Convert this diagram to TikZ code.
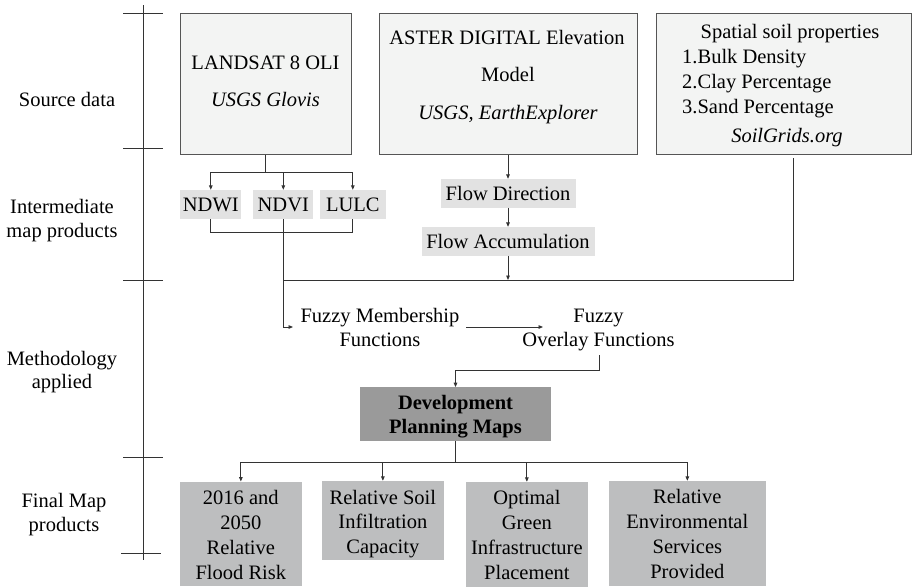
\documentclass[tikz,border=0pt]{standalone}
\usepackage{fontspec}
\setmainfont{Liberation Serif}
\usetikzlibrary{arrows.meta}
\definecolor{lncol}{HTML}{333333}
\definecolor{boxline}{HTML}{555555}
\definecolor{srcfill}{HTML}{F3F4F3}
\definecolor{midfill}{HTML}{E2E2E2}
\definecolor{devfill}{HTML}{9A9A9A}
\definecolor{finfill}{HTML}{BDBEBF}
\newcommand{\myfs}{\fontsize{20.5}{25}\selectfont}
\begin{document}
\begin{tikzpicture}[x=1pt,y=-1pt,
  ln/.style={draw=lncol, line width=0.9pt},
  arr/.style={ln, -{Triangle[length=4.5pt,width=3.6pt]}},
  stem/.style={draw=lncol, line width=1.8pt},
  srcbox/.style={draw=boxline, line width=1pt, fill=srcfill, inner sep=0pt},
  midbox/.style={fill=midfill, inner sep=0pt, font=\myfs, text height=14pt, text depth=0pt},
  devbox/.style={fill=devfill, inner sep=0pt},
  finbox/.style={fill=finfill, inner sep=0pt},
  txt/.style={anchor=base, inner sep=0pt, font=\myfs},
  ltxt/.style={anchor=base west, inner sep=0pt, font=\myfs},
]
\useasboundingbox[fill=white] (0,0) rectangle (912,587);

% axis
\coordinate (axTop) at (143,5);
\coordinate (axBot) at (143,560);
\draw[ln] (axTop) -- (axBot);
\draw[ln] (123,13) -- (163,13);
\draw[ln] (123,148.3) -- (163,148.3);
\draw[ln] (123,280.7) -- (163,280.7);
\draw[ln] (123,457.3) -- (163,457.3);
\draw[ln] (121,553.3) -- (161,553.3);

% stage labels
\node[txt] (lab1) at (67,106) {Source data};
\node[txt] (lab2a) at (62,213) {Intermediate};
\node[txt] (lab2b) at (62,237) {map products};
\node[txt] (lab3a) at (62,365) {Methodology};
\node[txt] (lab3b) at (62,388) {applied};
\node[txt] (lab4a) at (64,507) {Final Map};
\node[txt] (lab4b) at (64,531) {products};

% source boxes
\node[srcbox, minimum width=171pt, minimum height=141pt] (landsat) at (265.5,83.5) {};
\node[txt] (landsatA) at (265.5,69.5) {LANDSAT 8 OLI};
\node[txt] (landsatB) at (265.5,106) {\itshape USGS Glovis};

\node[srcbox, minimum width=258pt, minimum height=141pt] (aster) at (508,83.5) {};
\node[txt] (asterA) at (507,44) {ASTER DIGITAL Elevation};
\node[txt] (asterB) at (508,81.5) {Model};
\node[txt] (asterC) at (508,119) {\itshape USGS, EarthExplorer};

\node[srcbox, minimum width=255pt, minimum height=141pt] (soil) at (783.5,83.5) {};
\node[txt] (soilA) at (790,38) {Spatial soil properties};
\node[ltxt] (soilB) at (682,63) {1.Bulk Density};
\node[ltxt] (soilC) at (682,88) {2.Clay Percentage};
\node[ltxt] (soilD) at (682,113) {3.Sand Percentage};
\node[txt] (soilE) at (787,142) {\itshape SoilGrids.org};

% intermediate products
\node[midbox, minimum width=60.7pt, minimum height=29pt] (ndwi) at (210.8,204.5) {NDWI};
\node[midbox, minimum width=60pt, minimum height=29pt] (ndvi) at (283.3,204.5) {NDVI};
\node[midbox, minimum width=65.7pt, minimum height=29pt] (lulc) at (352.8,204.5) {LULC};
\node[midbox, minimum width=135pt, minimum height=28.7pt] (fd) at (508,193.4) {Flow Direction};
\node[midbox, minimum width=173pt, minimum height=28.7pt] (fa) at (508,241.4) {Flow Accumulation};

% methodology
\node[txt] (fm1) at (380,322) {Fuzzy Membership};
\node[txt] (fm2) at (380,346.7) {Functions};
\node[txt] (fo1) at (598.5,322) {Fuzzy};
\node[txt] (fo2) at (598.5,346.7) {Overlay Functions};

\node[devbox, minimum width=191pt, minimum height=53.4pt] (dev) at (455.5,414) {};
\node[txt] (devA) at (455.5,409) {\bfseries Development};
\node[txt] (devB) at (455.5,433) {\bfseries Planning Maps};

% final products
\node[finbox, minimum width=121.7pt, minimum height=104.3pt] (fin1) at (240.85,533.85) {};
\node[txt] (fin1a) at (240.85,504) {2016 and};
\node[txt] (fin1b) at (240.85,529) {2050};
\node[txt] (fin1c) at (240.85,554) {Relative};
\node[txt] (fin1d) at (240.85,579) {Flood Risk};

\node[finbox, minimum width=122.3pt, minimum height=79pt] (fin2) at (382.85,520.5) {};
\node[txt] (fin2a) at (382.85,504) {Relative Soil};
\node[txt] (fin2b) at (382.85,528.5) {Infiltration};
\node[txt] (fin2c) at (382.85,553) {Capacity};

\node[finbox, minimum width=121.7pt, minimum height=104.7pt] (fin3) at (526.85,534.35) {};
\node[txt] (fin3a) at (526.85,504) {Optimal};
\node[txt] (fin3b) at (526.85,529) {Green};
\node[txt] (fin3c) at (526.85,554) {Infrastructure};
\node[txt] (fin3d) at (526.85,579) {Placement};

\node[finbox, minimum width=156.7pt, minimum height=104.7pt] (fin4) at (687.35,533.35) {};
\node[txt] (fin4a) at (687.35,503) {Relative};
\node[txt] (fin4b) at (687.35,528) {Environmental};
\node[txt] (fin4c) at (687.35,553) {Services};
\node[txt] (fin4d) at (687.35,578) {Provided};

% connectors: landsat
\coordinate (lsJ) at (265.5,172);
\draw[stem] (landsat.south) -- (lsJ);
\draw[arr] (lsJ) -| (ndwi.north);
\draw[arr] (lsJ) -| (ndvi.north);
\draw[arr] (lsJ) -| (lulc.north);
\draw[ln] (ndwi.south) -- ++(0,13) -| (lulc.south);

% aster chain
\coordinate (faEnd) at (508,280);
\draw[arr] (aster.south) -- (fd.north);
\draw[arr] (fd.south) -- (fa.north);
\draw[arr] (fa.south) -- (faEnd);

% soil
\coordinate (soilOut) at (793.3,158);
\coordinate (hEnd) at (283.3,280);
\draw[ln] (soilOut) |- (hEnd);

% into fuzzy membership
\coordinate (fmIn) at (293,327);
\draw[arr] (ndvi.south) |- (fmIn);

% membership -> overlay
\coordinate (fmOut) at (466,327);
\coordinate (foIn) at (543,327);
\draw[arr] (fmOut) -- (foIn);

% overlay -> development
\coordinate (foOut) at (599,355);
\draw[arr] (foOut) -- ++(0,15) -| (dev.north);

% development -> finals
\coordinate (devJ) at (455.5,462);
\draw[stem] (dev.south) -- (devJ);
\draw[arr] (devJ) -| (fin1.north);
\draw[arr] (devJ) -| (fin2.north);
\draw[arr] (devJ) -| (fin3.north);
\draw[arr] (devJ) -| (fin4.north);
\end{tikzpicture}
\end{document}
